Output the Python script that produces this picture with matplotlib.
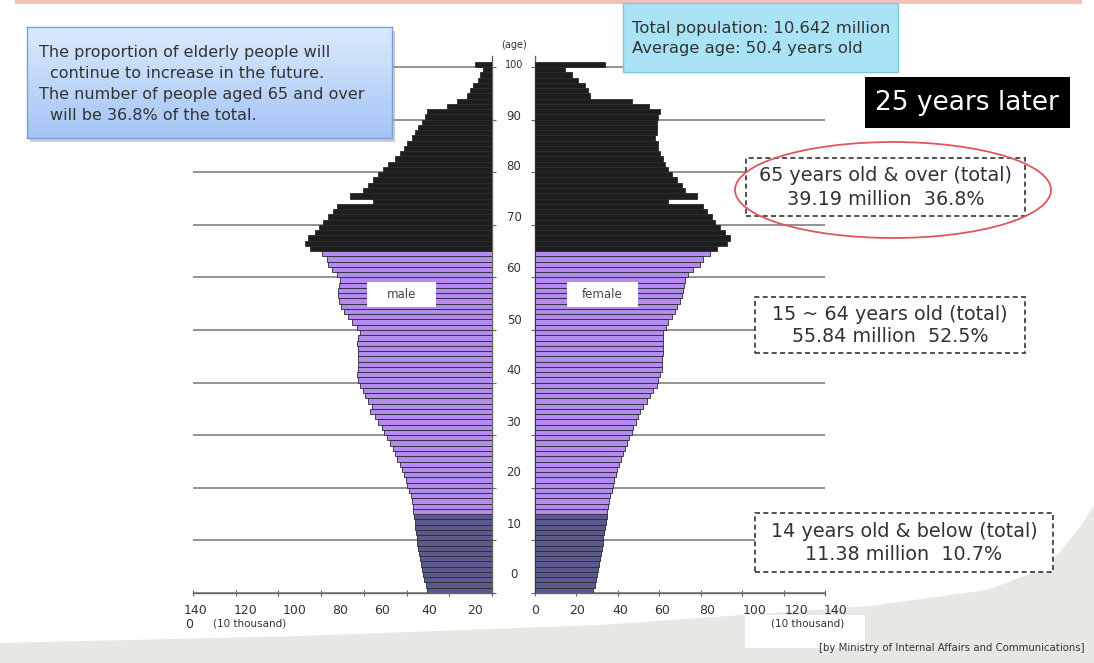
import matplotlib
matplotlib.use('Agg')
import matplotlib.pyplot as plt
import numpy as np
from matplotlib.patches import Rectangle, Ellipse, Polygon

# ---------------- data (10 thousand persons, ages 0..100) ----------------
ages = list(range(0, 101))
male = [30.3, 31.0, 31.7, 32.1, 32.6, 33.2, 33.7, 34.0, 34.5, 34.9,
        35.3, 35.6, 35.9, 36.2, 36.5, 36.8, 37.1, 37.6, 38.1, 38.7,
        39.6, 40.2, 41.2, 42.3, 43.1, 44.3, 45.4, 46.5, 47.7, 49.0,
        50.5, 51.6, 53.2, 54.8, 57.1, 56.3, 57.9, 59.4, 60.5, 61.8,
        62.6, 63.0, 62.8, 62.8, 62.6, 62.8, 62.6, 63.0, 62.6, 61.8,
        63.3, 65.7, 67.6, 69.5, 70.6, 71.5, 71.9, 71.9, 71.5, 71.1,
        72.7, 75.0, 76.6, 77.4, 79.7, 85.2, 87.5, 86.0, 82.8, 80.8,
        78.9, 76.6, 74.3, 72.7, 55.5, 66.5, 60.2, 57.9, 55.5, 53.2,
        50.9, 48.5, 45.4, 43.1, 41.2, 39.9, 37.6, 36.0, 34.5, 32.9,
        31.4, 30.6, 21.2, 16.5, 11.5, 10.3, 8.7, 6.7, 5.6, 4.1,
        8.0]
female = [28.2, 29.0, 29.5, 30.1, 30.6, 31.1, 31.4, 31.9, 32.2, 32.7,
          33.0, 33.3, 33.8, 34.3, 34.6, 34.9, 35.4, 35.9, 36.2, 37.0,
          37.5, 38.2, 39.1, 39.8, 40.7, 41.4, 42.4, 43.5, 44.6, 45.6,
          46.7, 47.5, 48.8, 49.9, 50.7, 52.3, 53.9, 55.6, 57.2, 58.8,
          59.6, 60.4, 61.2, 61.2, 61.2, 61.7, 61.7, 62.0, 61.7, 62.0,
          63.3, 64.4, 66.0, 67.6, 68.6, 70.0, 70.9, 71.3, 71.7, 72.5,
          74.1, 76.5, 79.7, 81.3, 84.5, 87.8, 92.6, 94.2, 91.8, 89.4,
          87.0, 85.3, 82.9, 81.3, 64.4, 78.1, 72.5, 70.9, 68.4, 66.0,
          64.4, 62.8, 61.7, 60.4, 59.6, 59.6, 58.0, 58.8, 59.1, 59.1,
          59.6, 60.4, 54.8, 46.7, 26.6, 25.8, 24.2, 20.9, 17.7, 14.5,
          33.8]
group_bounds = [15, 65]          # 0-14 / 15-64 / 65+
group_colors = ['#5a5a8e', '#b48cf0', '#1e1e1e']
age_ticks = list(range(0, 101, 10))
x_ticks = list(range(0, 141, 20))
x_tick_labels = ['0', '20', '40', '60', '80', '100', '120', '140']

W, H = 1094, 663
fig = plt.figure(figsize=(W / 100, H / 100), dpi=100)
fig.patch.set_facecolor('white')


def fx(x):
    return x / W


def fy(y):
    return 1 - y / H


def ftext(x, y, s, **kw):
    return fig.text(fx(x), fy(y), s, **kw)


# --------------- background decoration ---------------
bg = Polygon([(fx(0), fy(663)), (fx(0), fy(643)), (fx(300), fy(636)),
              (fx(600), fy(625)), (fx(870), fy(606)), (fx(987), fy(590)),
              (fx(1035), fy(572)), (fx(1060), fy(552)), (fx(1083), fy(523)),
              (fx(1094), fy(505)), (fx(1094), fy(663))],
             closed=True, transform=fig.transFigure, facecolor='#e9e7e3',
             edgecolor='none', zorder=-5)
fig.add_artist(bg)
fig.add_artist(Rectangle((fx(745), fy(648)), fx(120), 33 / H,
                         transform=fig.transFigure, facecolor='white',
                         edgecolor='none', zorder=-4))
fig.add_artist(Rectangle((fx(15), fy(4)), fx(1067), 4 / H,
                         transform=fig.transFigure, facecolor='#f3c2b9',
                         edgecolor='none', zorder=-4))

# --------------- axes ---------------
y_top = 102
ax_bottom = fy(593)
ax_h = (102 * 5.26) / H
axL = fig.add_axes([fx(193), ax_bottom, fx(299), ax_h])
axR = fig.add_axes([fx(535), ax_bottom, fx(290), ax_h])


def colors_for(ages_):
    out = []
    for a in ages_:
        if a < group_bounds[0]:
            out.append(group_colors[0])
        elif a < group_bounds[1]:
            out.append(group_colors[1])
        else:
            out.append(group_colors[2])
    return out


cols = colors_for(ages)
axL.barh(ages, male, height=1, align='edge', color=cols,
         edgecolor='#2a2a35', linewidth=0.6, zorder=3)
axR.barh(ages, female, height=1, align='edge', color=cols,
         edgecolor='#2a2a35', linewidth=0.6, zorder=3)

for ax in (axL, axR):
    ax.set_facecolor('none')
    ax.set_ylim(0, y_top)
    ax.set_xticks(x_ticks)
    ax.set_xticklabels([])
    ax.set_yticks(age_ticks)
    ax.set_yticklabels([])
    ax.yaxis.grid(True, color='#8a8a8a', linewidth=1.3, zorder=0)
    ax.set_axisbelow(True)
    ax.spines['top'].set_visible(False)
    for s in ('bottom', 'left', 'right'):
        ax.spines[s].set_color('#666666')
        ax.spines[s].set_linewidth(1.0)
    ax.tick_params(axis='x', direction='inout', length=4, color='#666666',
                   width=0.8)
    ax.tick_params(axis='y', direction='out', length=3, color='#666666',
                   width=0.8)

axL.set_xlim(140, 0)
axL.spines['left'].set_visible(False)
axL.yaxis.tick_right()
axR.set_xlim(0, 140)
axR.spines['right'].set_visible(False)
axR.yaxis.tick_left()

# --------------- tick label texts ---------------
lab_col = '#333333'
left_lab_x = [475, 429, 382, 340, 295, 246, 196]   # 20..140
for lab, x in zip(x_tick_labels[1:], left_lab_x):
    ftext(x, 610, lab, ha='center', va='center', fontsize=9, color=lab_col)
ftext(189, 624, '0', ha='center', va='center', fontsize=9, color=lab_col)
ftext(213, 624, '(10 thousand)', ha='left', va='center', fontsize=7.5,
      color=lab_col)
right_lab_x = [535, 577, 620, 662, 707, 755, 797, 836]
for lab, x in zip(x_tick_labels, right_lab_x):
    ftext(x, 610, lab, ha='center', va='center', fontsize=9, color=lab_col)
ftext(808, 624, '(10 thousand)', ha='center', va='center', fontsize=7.5,
      color=lab_col)

for a in age_ticks:
    ftext(514, 575 - 5.1 * a, str(a), ha='center', va='center',
          fontsize=7 if a == 100 else 8.5, color=lab_col)
ftext(514, 45, '(age)', ha='center', va='center', fontsize=7, color=lab_col)

# --------------- male / female labels ---------------
for (x0, x1, txt) in [(367, 436, 'male'), (567, 638, 'female')]:
    fig.add_artist(Rectangle((fx(x0), fy(307)), fx(x1 - x0), 25 / H,
                             transform=fig.transFigure, facecolor='white',
                             edgecolor='none', zorder=5))
    ftext((x0 + x1) / 2, 295, txt, ha='center', va='center', fontsize=8.5,
          color='#444444', zorder=6)

# --------------- blue note box (gradient) ---------------
fig.add_artist(Rectangle((fx(30), fy(142)), fx(365), 111 / H,
                         transform=fig.transFigure, facecolor='#9a9a9a',
                         edgecolor='none', alpha=0.5, zorder=4))
gax = fig.add_axes([fx(27), fy(138), fx(365), 111 / H], zorder=5)
grad = np.linspace(0, 1, 100).reshape(-1, 1)
c_top = np.array([0.86, 0.92, 0.99])
c_bot = np.array([0.64, 0.77, 0.96])
img = c_top[None, None, :] * (1 - grad[:, :, None]) + c_bot[None, None, :] * grad[:, :, None]
gax.imshow(img, aspect='auto', extent=[0, 1, 0, 1])
gax.set_xticks([])
gax.set_yticks([])
for s in gax.spines.values():
    s.set_color('#7a9fd8')
    s.set_linewidth(1.0)
note_lines = [(39, 53, 'The proportion of elderly people will'),
              (50, 74, 'continue to increase in the future.'),
              (39, 95, 'The number of people aged 65 and over'),
              (50, 115, 'will be 36.8% of the total.')]
for x, y, s in note_lines:
    ftext(x, y, s, ha='left', va='center', fontsize=11.5,
          color='#333333', zorder=7)

# --------------- cyan box ---------------
fig.add_artist(Rectangle((fx(623), fy(72)), fx(275), 69 / H,
                         transform=fig.transFigure, facecolor='#a9e3f5',
                         edgecolor='#7cc6e0', linewidth=1.0, zorder=5))
ftext(632, 28, 'Total population: 10.642 million', ha='left', va='center',
      fontsize=11.8, color='#333333', zorder=6)
ftext(632, 49, 'Average age: 50.4 years old', ha='left', va='center',
      fontsize=11.8, color='#333333', zorder=6)

# --------------- "25 years later" ---------------
fig.add_artist(Rectangle((fx(865), fy(128)), fx(205), 51 / H,
                         transform=fig.transFigure, facecolor='#000000',
                         edgecolor='none', zorder=5))
ftext(967, 103, '25 years later', ha='center', va='center', fontsize=19,
      color='white', zorder=6)

# --------------- dashed summary boxes ---------------
boxes = [(746, 158, 1025, 216, '65 years old & over (total)',
          '39.19 million  36.8%'),
         (755, 297, 1025, 353, '15 ~ 64 years old (total)',
          '55.84 million  52.5%'),
         (755, 513, 1053, 572, '14 years old & below (total)',
          '11.38 million  10.7%')]
for x0, y0, x1, y1, l1, l2 in boxes:
    fig.add_artist(Rectangle((fx(x0), fy(y1)), fx(x1 - x0), (y1 - y0) / H,
                             transform=fig.transFigure, facecolor='white',
                             edgecolor='#333333', linewidth=1.2,
                             linestyle=(0, (3, 2)), zorder=5))
    cx = (x0 + x1) / 2
    cy = (y0 + y1) / 2
    ftext(cx, cy - 11, l1, ha='center', va='center', fontsize=13.8,
          color='#333333', zorder=6)
    ftext(cx, cy + 12, l2, ha='center', va='center', fontsize=13.8,
          color='#333333', zorder=6)

fig.add_artist(Ellipse((fx(893), fy(190)), fx(316), 96 / H,
                       transform=fig.transFigure, facecolor='none',
                       edgecolor='#e05560', linewidth=1.3, zorder=7))

# --------------- source ---------------
ftext(1085, 648, '[by Ministry of Internal Affairs and Communications]',
      ha='right', va='center', fontsize=7.3, color='#333333', zorder=6)

fig.savefig('out.png', dpi=100)
